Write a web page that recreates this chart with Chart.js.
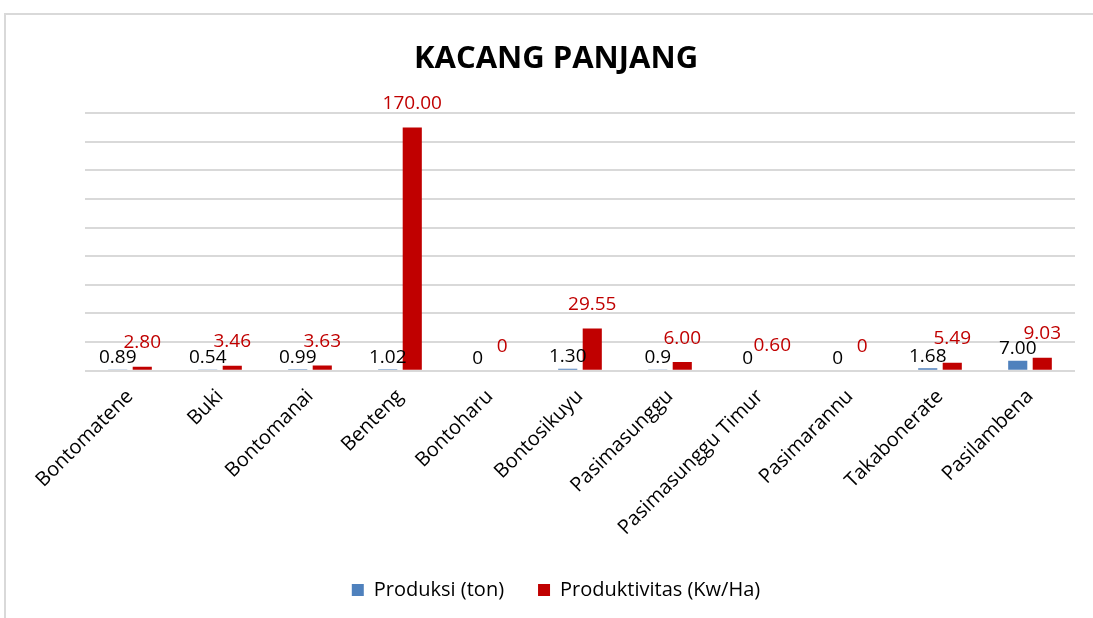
<!DOCTYPE html>
<html>
<head>
<meta charset="utf-8">
<script src="https://cdn.jsdelivr.net/npm/chart.js@4.4.0/dist/chart.umd.min.js"></script>
<style>
  html, body { margin: 0; padding: 0; background: #fff; overflow: hidden; }
  #frame { position: absolute; left: 4px; top: 13px; width: 1100px; height: 620px;
           border: 2px solid #d9d9d9; box-sizing: border-box; }
  #myChart { position: absolute; left: 0; top: 0; }
</style>
</head>
<body>
<div id="frame"></div>
<canvas id="myChart" width="1093" height="618"></canvas>
<script>
// data
const categories = ['Bontomatene', 'Buki', 'Bontomanai', 'Benteng', 'Bontoharu', 'Bontosikuyu',
    'Pasimasunggu', 'Pasimasunggu Timur', 'Pasimarannu', 'Takabonerate', 'Pasilambena'];
const produksi = [0.89, 0.54, 0.99, 1.02, 0, 1.30, 0.9, 0, 0, 1.68, 7.00];
const produktivitas = [2.80, 3.46, 3.63, 170.00, 0, 29.55, 6.00, 0.60, 0, 5.49, 9.03];
const produksiLabels = ['0.89', '0.54', '0.99', '1.02', '0', '1.30', '0.9', '0', '0', '1.68', '7.00'];
const produktivitasLabels = ['2.80', '3.46', '3.63', '170.00', '0', '29.55', '6.00', '0.60', '0', '5.49', '9.03'];

const FONT = "'Open Sans', 'Noto Sans', sans-serif";

// draws the value labels above each bar
const valueLabels = {
    id: 'valueLabels',
    afterDatasetsDraw(chart) {
        const ctx = chart.ctx;
        ctx.save();
        ctx.font = '19px ' + FONT;
        ctx.textAlign = 'center';
        ctx.textBaseline = 'middle';
        chart.data.datasets.forEach((ds, i) => {
            const meta = chart.getDatasetMeta(i);
            meta.data.forEach((bar, j) => {
                ctx.fillStyle = ds.labelColor;
                ctx.fillText(ds.labelsText[j], bar.x, bar.y - ds.labelOffset);
            });
        });
        ctx.restore();
    }
};

const ctx = document.getElementById('myChart').getContext('2d');
new Chart(ctx, {
    type: 'bar',
    data: {
        labels: categories,
        datasets: [{
            label: 'Produksi (ton)',
            data: produksi,
            backgroundColor: '#4f81bd',
            labelsText: produksiLabels,
            labelColor: '#000000',
            labelOffset: 12
        }, {
            label: 'Produktivitas (Kw/Ha)',
            data: produktivitas,
            backgroundColor: '#c00000',
            labelsText: produktivitasLabels,
            labelColor: '#c00000',
            labelOffset: 24
        }]
    },
    options: {
        responsive: false,
        animation: false,
        devicePixelRatio: 1,
        categoryPercentage: 0.545,
        barPercentage: 0.78,
        layout: { padding: { left: 37, right: 18, top: 0, bottom: 8 } },
        plugins: {
            title: {
                display: true,
                text: 'KACANG PANJANG',
                color: '#000',
                font: { family: FONT, size: 31, weight: 'bold' },
                padding: { top: 41, bottom: 35 }
            },
            legend: {
                position: 'bottom',
                labels: {
                    color: '#000',
                    font: { family: FONT, size: 20 },
                    boxWidth: 12,
                    boxHeight: 12,
                    padding: 34
                }
            },
            tooltip: { enabled: false }
        },
        scales: {
            x: {
                grid: { display: false },
                border: { display: false },
                ticks: {
                    color: '#000',
                    font: { family: FONT, size: 20 },
                    minRotation: 45,
                    maxRotation: 45,
                    autoSkip: false,
                    padding: 6
                }
            },
            y: {
                min: 0,
                max: 180,
                afterFit(scale) { scale.width = 48; },
                ticks: { display: false, stepSize: 20 },
                grid: { color: '#d9d9d9', lineWidth: 2, drawTicks: false },
                border: { display: false }
            }
        }
    },
    plugins: [valueLabels]
});
</script>
</body>
</html>
